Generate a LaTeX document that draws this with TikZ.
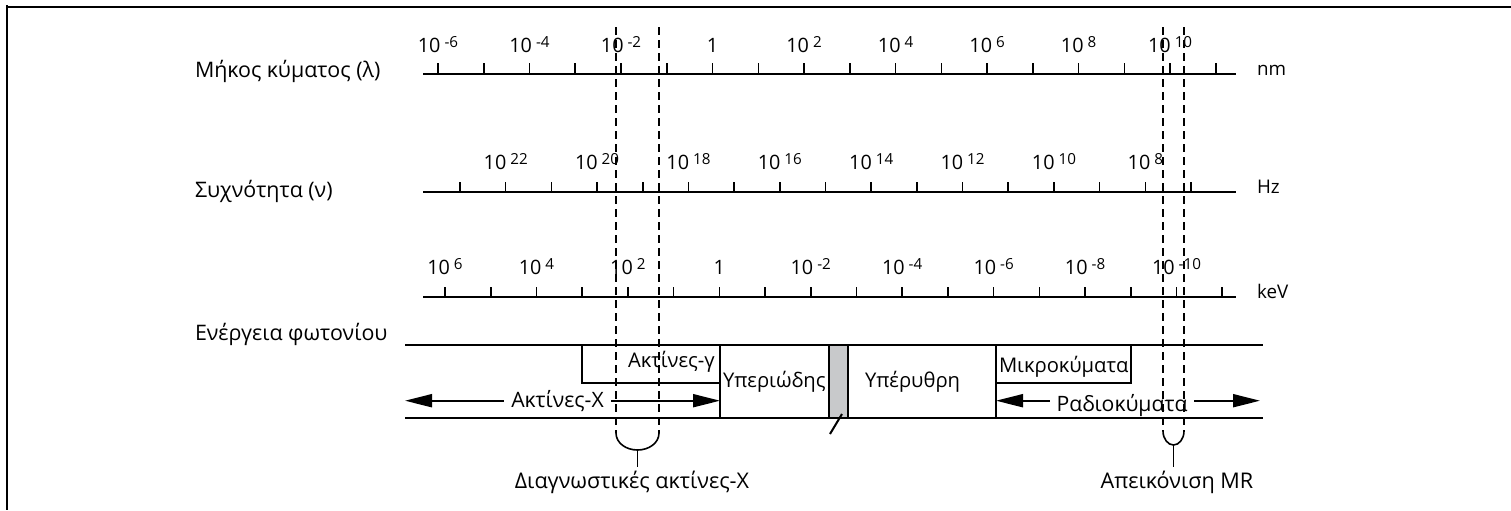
\documentclass[tikz,border=0pt]{standalone}
\usepackage{fontspec}
\setmainfont{Open Sans}
\usetikzlibrary{arrows.meta}

% power-of-ten label: "10" followed by a raised exponent
\newcommand\pw[1]{10\hspace{2pt}\raisebox{2.2pt}{\fontsize{7.6}{8}\selectfont #1}}

\begin{document}
\begin{tikzpicture}[x=0.5pt,y=-0.5pt,
  every node/.style={inner sep=0pt, outer sep=0pt},
  frame/.style={line width=1pt},
  axisline/.style={line width=1pt},
  scaletick/.style={line width=0.8pt},
  bandline/.style={line width=1pt},
  guide/.style={line width=0.8pt, dash pattern=on 4pt off 2.5pt},
  bracket/.style={line width=0.8pt},
  bothtips/.style={line width=1pt,
    {Triangle[length=13.5pt,width=6.5pt]}-{Triangle[length=13.5pt,width=6.5pt]}},
  title/.style={font=\fontsize{10.7}{12}\selectfont, anchor=base west},
  num/.style={font=\fontsize{9.9}{11}\selectfont, anchor=base},
  unit/.style={font=\fontsize{9.4}{11}\selectfont, anchor=base west},
  band/.style={font=\fontsize{10.1}{12}\selectfont, anchor=base west},
  arrowtext/.style={font=\fontsize{10.6}{12}\selectfont, anchor=base, fill=white, inner xsep=3.5pt},
  note/.style={font=\fontsize{10.8}{12}\selectfont, anchor=base}
]
\useasboundingbox (0,0) rectangle (1511,510);

% outer frame (top and left edges)
\draw[frame] (6,7) -- (1511,7);
\draw[frame] (7,5) -- (7,510);

% ---------------- axis titles ----------------
\node[title] (tlam) at (195,77) {Μήκος κύματος (λ)};
\node[title] (tnu)  at (195,197) {Συχνότητα (ν)};
\node[title] (tE)   at (195,340) {Ενέργεια φωτονίου};

% ---------------- wavelength scale ----------------
\draw[axisline] (423,74) -- (1236,74);
\foreach \i in {0,...,17}
  \draw[scaletick] (438+45.76*\i,74) -- ++(0,-11);
\foreach \i/\e in {0/{-6},2/{-4},4/{-2},8/2,10/4,12/6,14/8,16/10}
  \node[num] (lam\i) at (438+45.76*\i,52) {\pw{\e}};
\node[num] (lam6) at (438+45.76*6,52) {1};
\node[unit] (unm) at (1257,75) {nm};

% ---------------- frequency scale ----------------
\draw[axisline] (423,192) -- (1236,192);
\foreach \i in {0,...,16}
  \draw[scaletick] (460+45.69*\i,192) -- ++(0,-10);
\foreach \i/\e in {1/22,3/20,5/18,7/16,9/14,11/12,13/10,15/8}
  \node[num] (nu\i) at (460+45.69*\i,169) {\pw{\e}};
\node[unit] (uhz) at (1257,193) {Hz};

% ---------------- energy scale ----------------
\draw[axisline] (423,297) -- (1236,297);
\foreach \i in {0,...,17}
  \draw[scaletick] (445+45.72*\i,297) -- ++(0,-10);
\foreach \i/\e in {0/6,2/4,4/2,8/{-2},10/{-4},12/{-6},14/{-8},16/{-10}}
  \node[num] (en\i) at (445+45.72*\i,274) {\pw{\e}};
\node[num] (en6) at (445+45.72*6,274) {1};
\node[unit] (ukev) at (1257,298) {keV};

% ---------------- spectrum bands ----------------
\draw[bandline] (405,345) -- (1263,345);
\draw[bandline] (405,418) -- (1263,418);
\draw[bandline] (582,345) -- (582,383) -- (720,383);
\draw[bandline] (720,345) -- (720,418);
\draw[bandline, fill={rgb,255:red,200;green,201;blue,203}] (829,345) rectangle (848,418);
\draw[bandline] (830,434) -- (842,414);
\draw[bandline] (996,345) -- (996,418);
\draw[bandline] (1131,345) -- (1131,383) -- (996,383);

\coordinate (xl) at (405,400.7);
\coordinate (xr) at (720,400.7);
\coordinate (rl) at (996,400.7);
\coordinate (rr) at (1260,400.7);
\draw[bothtips] (xl) -- (xr);
\draw[bothtips] (rl) -- (rr);

\node[band] (gam)  at (628,367) {Ακτίνες-γ};
\node[band] (uv)   at (723,387) {Υπεριώδης};
\node[band] (ir)   at (865,387) {Υπέρυθρη};
\node[band] (mw)   at (999,372) {Μικροκύματα};
\node[arrowtext] (xray)  at (557.5,407) {Ακτίνες-X};
\node[arrowtext] (radio) at (1122,411) {Ραδιοκύματα};

% ---------------- marked ranges ----------------
\draw[guide] (616,27) -- (616,433);
\draw[guide] (659,27) -- (659,433);
\draw[bracket] (616,433) .. controls (616,443) and (626,450) .. (637.5,450)
               .. controls (649,450) and (659,443) .. (659,433);
\coordinate (dx) at (637.5,450);
\node[note] (diag) at (632,488) {Διαγνωστικές ακτίνες-X};
\draw[bracket] (dx) -- (637.5,467);

\draw[guide] (1163,27) -- (1163,431);
\draw[guide] (1184,27) -- (1184,431);
\draw[bracket] (1163,431) .. controls (1163,439) and (1168,445) .. (1173.5,445)
               .. controls (1179,445) and (1184,439) .. (1184,431);
\coordinate (mx) at (1173.5,445);
\node[note] (mr) at (1177,488) {Απεικόνιση MR};
\draw[bracket] (mx) -- (1173.5,467);
\end{tikzpicture}
\end{document}
